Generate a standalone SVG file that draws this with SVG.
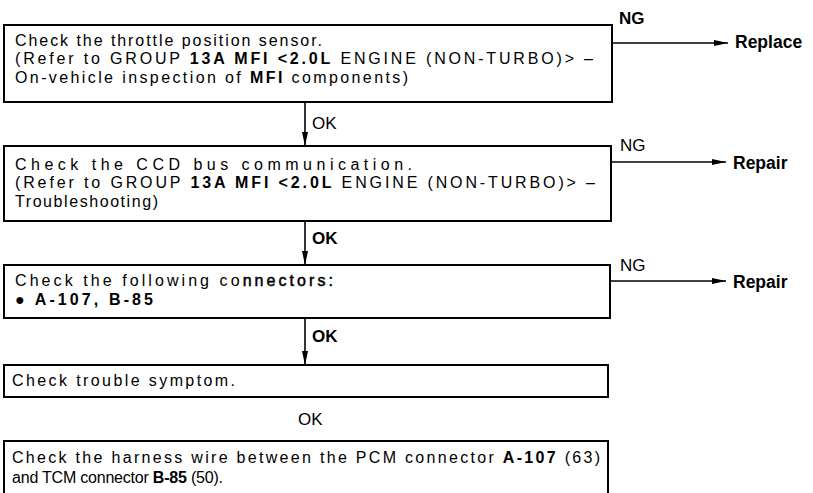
<svg xmlns="http://www.w3.org/2000/svg" width="813" height="493" viewBox="0 0 813 493">
<style>
.box{fill:#fff;stroke:#000;stroke-width:2}
.t{font-family:"Liberation Sans",Arial,sans-serif;font-size:16px;fill:#000}
.b{font-weight:bold}
.sb{stroke:#000;stroke-width:0.5}
.lbl{font-family:"Liberation Sans",Arial,sans-serif;font-size:17px;fill:#000}
.act{font-family:"Liberation Sans",Arial,sans-serif;font-size:17.5px;font-weight:bold;fill:#000}
.c{stroke:#000;stroke-width:1.6;fill:none}
</style>
<defs>
<marker id="ah" viewBox="0 0 14 6" refX="14" refY="3" markerWidth="14" markerHeight="6" markerUnits="userSpaceOnUse" orient="auto">
<path d="M0,0 L14,3 L0,6 Z" fill="#000"/>
</marker>
</defs>
<rect width="813" height="493" fill="#fff"/>
<g id="connectors">
<line class="c" x1="612" y1="43" x2="728" y2="43" marker-end="url(#ah)"/>
<line class="c" x1="611" y1="162" x2="726" y2="162" marker-end="url(#ah)"/>
<line class="c" x1="610" y1="281" x2="726" y2="281" marker-end="url(#ah)"/>
<line class="c" x1="305" y1="103" x2="305" y2="146" marker-end="url(#ah)"/>
<line class="c" x1="305" y1="222" x2="305" y2="265" marker-end="url(#ah)"/>
<line class="c" x1="305" y1="319" x2="305" y2="365" marker-end="url(#ah)"/>
<text class="lbl b" x="619" y="24">NG</text>
<text class="lbl" x="620" y="151">NG</text>
<text class="lbl" x="620" y="271">NG</text>
<text class="lbl" x="312" y="129">OK</text>
<text class="lbl b" x="312" y="244">OK</text>
<text class="lbl b" x="312" y="342">OK</text>
<text class="lbl" x="298" y="425">OK</text>
</g>
<g id="n1">
<rect class="box" x="4" y="25" width="608" height="77"/>
<text class="t" x="15" y="45.5" textLength="307" lengthAdjust="spacing">Check the throttle position sensor.</text>
<text class="t" x="15" y="64" textLength="578" lengthAdjust="spacing">(Refer to GROUP <tspan class="b">13A MFI &lt;2.0L</tspan> ENGINE (NON-TURBO)&gt; –</text>
<text class="t" x="15" y="82.5" textLength="393" lengthAdjust="spacing">On-vehicle inspection of <tspan class="b">MFI</tspan> components)</text>
</g>
<g id="replace1"><text class="act" x="735" y="48">Replace</text></g>
<g id="n2">
<rect class="box" x="4" y="146" width="607" height="75"/>
<text class="t" x="15" y="169.5" textLength="397" lengthAdjust="spacing">Check the CCD bus communication.</text>
<text class="t" x="15" y="188" textLength="580" lengthAdjust="spacing">(Refer to GROUP <tspan class="b">13A MFI &lt;2.0L</tspan> ENGINE (NON-TURBO)&gt; –</text>
<text class="t" x="15" y="206.5" textLength="143" lengthAdjust="spacing">Troubleshooting)</text>
</g>
<g id="repair2"><text class="act" x="733" y="169">Repair</text></g>
<g id="n3">
<rect class="box" x="4" y="265" width="606" height="53"/>
<text class="t" x="15" y="286" textLength="318" lengthAdjust="spacing">Check the following co<tspan class="sb">nnectors:</tspan></text>
<text class="t b" x="15" y="304.5" textLength="138" lengthAdjust="spacing">● A-107,  B-85</text>
</g>
<g id="repair3"><text class="act" x="733" y="288">Repair</text></g>
<g id="n4">
<rect class="box" x="4" y="365" width="604" height="32"/>
<text class="t" x="12" y="386" textLength="223" lengthAdjust="spacing">Check trouble symptom.</text>
</g>
<g id="n5">
<path class="box" d="M4,493 V441 H608 V493" fill="none"/>
<text class="t" x="12" y="463" textLength="588" lengthAdjust="spacing">Check the harness wire between the PCM connector <tspan class="b">A-107</tspan> (63)</text>
<text class="t" x="12" y="483" textLength="211" lengthAdjust="spacing">and TCM connector <tspan class="b">B-85</tspan> (50).</text>
</g>
</svg>
